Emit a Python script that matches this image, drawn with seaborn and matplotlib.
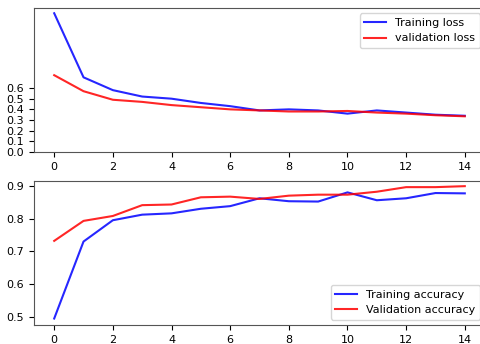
import numpy as np
import pandas as pd
import matplotlib
matplotlib.use("Agg")
import matplotlib.pyplot as plt
import seaborn as sns

epochs = list(range(15))
train_loss = [1.30, 0.70, 0.58, 0.52, 0.50, 0.46, 0.43, 0.39, 0.40, 0.39, 0.36, 0.39, 0.37, 0.35, 0.34]
val_loss = [0.72, 0.57, 0.49, 0.47, 0.44, 0.42, 0.40, 0.39, 0.38, 0.38, 0.385, 0.37, 0.36, 0.345, 0.335]
train_acc = [0.495, 0.73, 0.795, 0.812, 0.816, 0.83, 0.838, 0.862, 0.853, 0.852, 0.88, 0.856, 0.862, 0.878, 0.877]
val_acc = [0.732, 0.793, 0.808, 0.841, 0.843, 0.865, 0.867, 0.860, 0.870, 0.873, 0.873, 0.882, 0.896, 0.896, 0.899]

plt.rcParams['font.size'] = 8

fig, ax = plt.subplots(2, 1, figsize=(4.81, 3.44), dpi=100)
# the original picture is cropped on the right, so the axes run past the edge
fig.subplots_adjust(left=0.07, right=1.009, top=0.977, bottom=0.055, hspace=0.2)

# loss
sns.lineplot(x=epochs, y=train_loss, color='b', alpha=0.85, label="Training loss", ax=ax[0])
sns.lineplot(x=epochs, y=val_loss, color='r', alpha=0.85, label="validation loss", ax=ax[0])
ax[0].set_yticks(np.arange(0, 0.7, 0.1))
ax[0].set_ylim(0, 1.35)
ax[0].set_xticks(range(0, 15, 2))
ax[0].legend(loc='best', fontsize=8)

# accuracy
sns.lineplot(x=epochs, y=train_acc, color='b', alpha=0.85, label="Training accuracy", ax=ax[1])
sns.lineplot(x=epochs, y=val_acc, color='r', alpha=0.85, label="Validation accuracy", ax=ax[1])
ax[1].set_ylim(0.475, 0.915)
ax[1].set_xticks(range(0, 15, 2))
ax[1].legend(loc='lower right', fontsize=8)

for a in ax:
    a.set_xlim(-0.7, 14.7)
    for s in a.spines.values():
        s.set_color('#555555')

plt.savefig("out.png")
